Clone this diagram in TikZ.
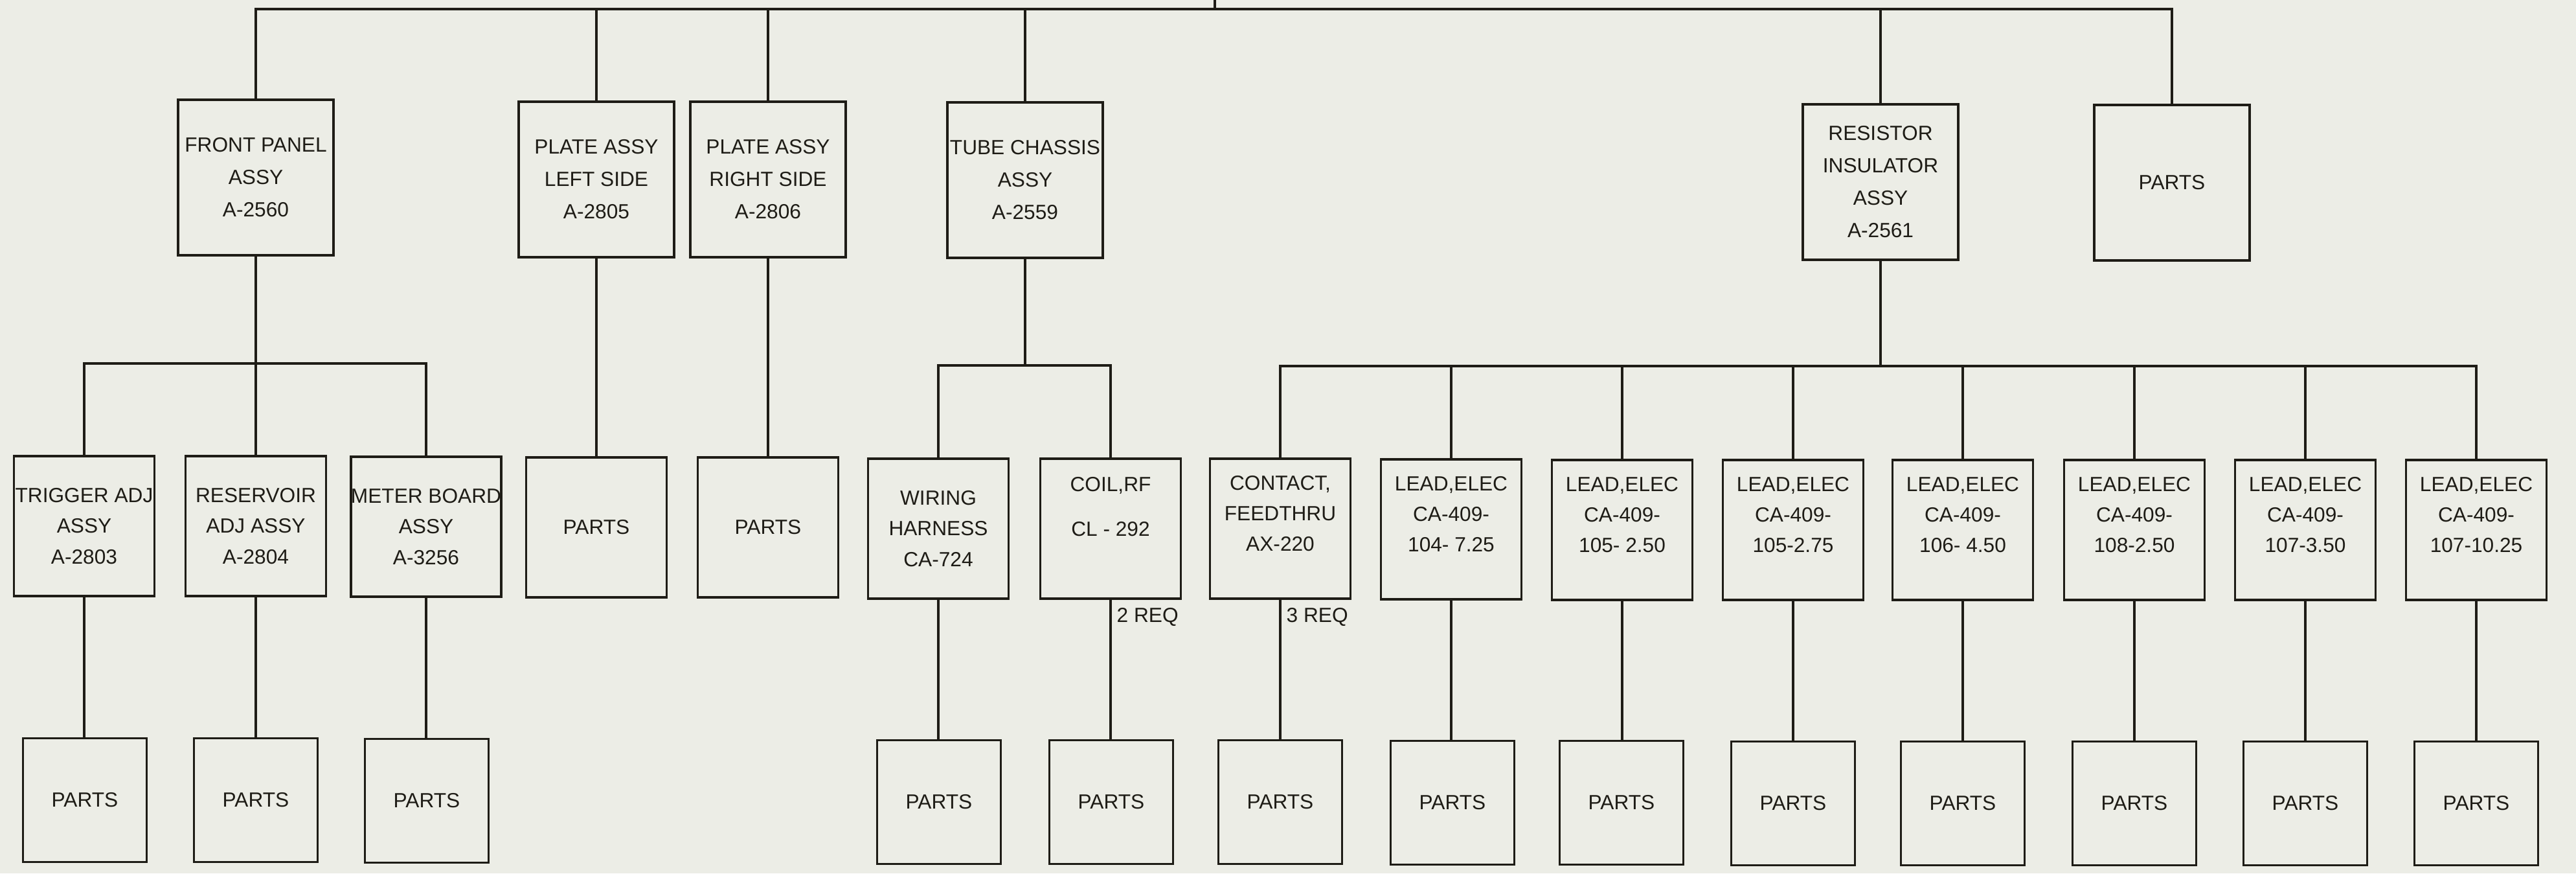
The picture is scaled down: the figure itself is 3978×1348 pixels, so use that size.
\documentclass[tikz,border=0pt]{standalone}
\usepackage{fontspec}
\setmainfont{Liberation Sans}
\definecolor{paper}{RGB}{236,237,230}
\definecolor{ink}{RGB}{30,28,22}
\tikzset{
  conn/.style={draw=ink, line width=0.9pt},
  basebox/.style={draw=ink, line width=1pt, inner sep=0pt, align=center, text=ink},
  bigbox/.style={basebox, minimum width=2.4cm, minimum height=2.4cm, font=\fontsize{9}{14.2}\selectfont},
  midbox/.style={basebox, minimum width=2.17cm, minimum height=2.16cm, font=\fontsize{9}{13.4}\selectfont},
  smallbox/.style={basebox, minimum width=1.91cm, minimum height=1.91cm, font=\fontsize{9}{13.4}\selectfont},
  reqlabel/.style={anchor=west, inner sep=0pt, text=ink, font=\fontsize{9}{11}\selectfont}
}
\begin{document}
\begin{tikzpicture}[x=0.01cm, y=-0.01cm]
\fill[paper] (0,0) rectangle (3978,1348);
\useasboundingbox (0,0) rectangle (3978,1348);

% level 1
\node[bigbox] (fp)   at (395,274)  {FRONT PANEL\\ASSY\\A-2560};
\node[bigbox] (pl)   at (921,277)  {PLATE ASSY\\LEFT SIDE\\A-2805};
\node[bigbox] (pr)   at (1186,277) {PLATE ASSY\\RIGHT SIDE\\A-2806};
\node[bigbox] (tc)   at (1583,278) {TUBE CHASSIS\\ASSY\\A-2559};
\node[bigbox] (ri)   at (2904,281) {RESISTOR\\INSULATOR\\ASSY\\A-2561};
\node[bigbox] (ptop) at (3354,282) {PARTS};

% level 2
\node[midbox] (tr)  at (130,812)  {TRIGGER ADJ\\ASSY\\A-2803};
\node[midbox] (rv)  at (395,812)  {RESERVOIR\\ADJ ASSY\\A-2804};
\node[midbox] (mb)  at (658,813)  {METER BOARD\\ASSY\\A-3256};
\node[midbox] (plp) at (921,814)  {PARTS};
\node[midbox] (prp) at (1186,814) {PARTS};
\node[midbox] (wh)  at (1449,816) {WIRING\\HARNESS\\CA-724};
\node[midbox] (co)  at (1715,816) {COIL,RF\\[6pt]CL - 292\\[6pt]\mbox{}};
\node[midbox] (ct)  at (1977,816) {CONTACT,\\FEEDTHRU\\AX-220\\\mbox{}};
\node[midbox] (l1)  at (2241,817) {LEAD,ELEC\\CA-409-\\104- 7.25\\\mbox{}};
\node[midbox] (l2)  at (2505,818) {LEAD,ELEC\\CA-409-\\105- 2.50\\\mbox{}};
\node[midbox] (l3)  at (2769,818) {LEAD,ELEC\\CA-409-\\105-2.75\\\mbox{}};
\node[midbox] (l4)  at (3031,818) {LEAD,ELEC\\CA-409-\\106- 4.50\\\mbox{}};
\node[midbox] (l5)  at (3296,818) {LEAD,ELEC\\CA-409-\\108-2.50\\\mbox{}};
\node[midbox] (l6)  at (3560,818) {LEAD,ELEC\\CA-409-\\107-3.50\\\mbox{}};
\node[midbox] (l7)  at (3824,818) {LEAD,ELEC\\CA-409-\\107-10.25\\\mbox{}};

% level 3
\node[smallbox] (q1)  at (131,1235)  {PARTS};
\node[smallbox] (q2)  at (395,1235)  {PARTS};
\node[smallbox] (q3)  at (659,1236)  {PARTS};
\node[smallbox] (q4)  at (1450,1238) {PARTS};
\node[smallbox] (q5)  at (1716,1238) {PARTS};
\node[smallbox] (q6)  at (1977,1238) {PARTS};
\node[smallbox] (q7)  at (2243,1239) {PARTS};
\node[smallbox] (q8)  at (2504,1239) {PARTS};
\node[smallbox] (q9)  at (2769,1240) {PARTS};
\node[smallbox] (q10) at (3031,1240) {PARTS};
\node[smallbox] (q11) at (3296,1240) {PARTS};
\node[smallbox] (q12) at (3560,1240) {PARTS};
\node[smallbox] (q13) at (3824,1240) {PARTS};

% quantity labels
\node[reqlabel] (req2) at (1724,952) {2 REQ};
\node[reqlabel] (req3) at (1986,952) {3 REQ};

% top bus
\coordinate (stub) at (1876,0);
\coordinate (tj) at (1876,14);
\draw[conn] (stub) -- (tj);
\draw[conn] (fp.north) -- (fp.north |- tj) -- (ptop.north |- tj) -- (ptop.north);
\foreach \n in {pl,pr,tc,ri} \draw[conn] (\n.north) -- (\n.north |- tj);

% front panel branch
\coordinate (b1) at (0,561);
\draw[conn] (fp.south) -- (fp.south |- b1);
\draw[conn] (tr.north) -- (tr.north |- b1) -- (mb.north |- b1) -- (mb.north);
\draw[conn] (rv.north) -- (rv.north |- b1);

% plates
\draw[conn] (pl.south) -- (plp.north);
\draw[conn] (pr.south) -- (prp.north);

% tube chassis branch
\coordinate (b2) at (0,564);
\draw[conn] (tc.south) -- (tc.south |- b2);
\draw[conn] (wh.north) -- (wh.north |- b2) -- (co.north |- b2) -- (co.north);

% resistor insulator branch
\coordinate (b3) at (0,565);
\draw[conn] (ri.south) -- (ri.south |- b3);
\draw[conn] (ct.north) -- (ct.north |- b3) -- (l7.north |- b3) -- (l7.north);
\foreach \n in {l1,l2,l3,l4,l5,l6} \draw[conn] (\n.north) -- (\n.north |- b3);

% level 2 to level 3
\foreach \a/\b in {tr/q1,rv/q2,mb/q3,wh/q4,co/q5,ct/q6,l1/q7,l2/q8,l3/q9,l4/q10,l5/q11,l6/q12,l7/q13}
  \draw[conn] (\a.south) -- (\a.south |- \b.north);
\end{tikzpicture}
\end{document}
